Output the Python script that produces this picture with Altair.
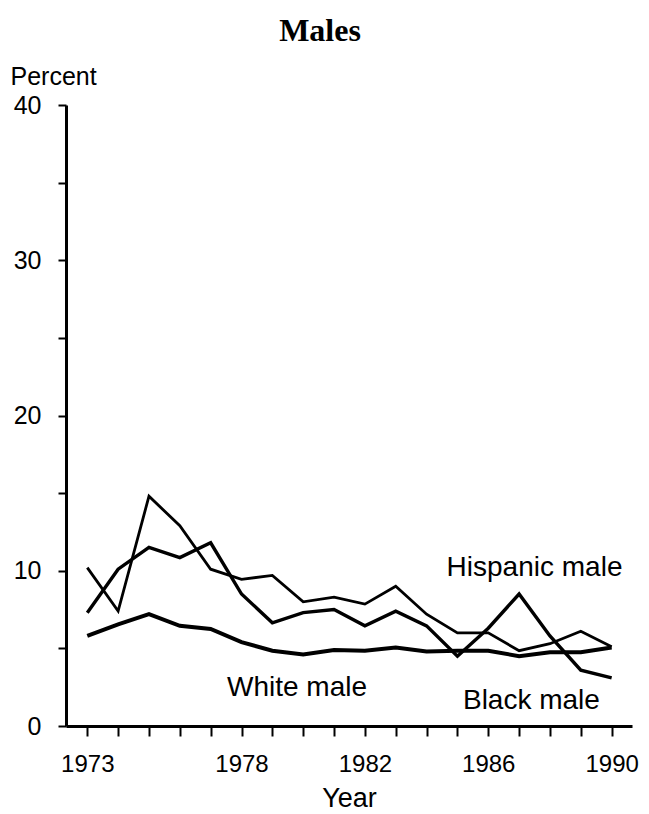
import altair as alt
import pandas as pd

years = list(range(1973, 1991))
white_male = [5.8, 6.55, 7.2, 6.45, 6.25, 5.4, 4.85, 4.6, 4.9, 4.85, 5.05, 4.8, 4.85, 4.85, 4.5, 4.75, 4.75, 5.05]
black_male = [7.3, 10.1, 11.5, 10.85, 11.8, 8.5, 6.65, 7.3, 7.5, 6.45, 7.4, 6.45, 4.5, 6.3, 8.5, 5.8, 3.6, 3.1]
hispanic_male = [10.2, 7.4, 14.8, 12.9, 10.1, 9.45, 9.7, 8.0, 8.3, 7.85, 9.0, 7.2, 6.0, 6.0, 4.85, 5.3, 6.1, 5.1]

series_names = ["White male", "Black male", "Hispanic male"]
series_widths = [4, 2.8, 1.5]

label_text = ["Hispanic male", "White male", "Black male"]
label_x = [1987.5, 1979.8, 1987.4]
label_y = [9.65, 1.93, 1.07]

x_tick_labels = [1973, 1978, 1982, 1986, 1990]
y_ticks = [0, 5, 10, 15, 20, 25, 30, 35, 40]

rows = []
for name, vals in zip(series_names, [white_male, black_male, hispanic_male]):
    for yr, v in zip(years, vals):
        rows.append({"year": yr, "value": v, "series": name})
df = pd.DataFrame(rows)
lab = pd.DataFrame({"text": label_text, "year": label_x, "value": label_y})

xscale = alt.Scale(domain=[1972.31, 1990.66], nice=False, zero=False)
yscale = alt.Scale(domain=[0, 40], nice=False)

label_expr_x = "(" + " || ".join(f"datum.value == {v}" for v in x_tick_labels) + ") ? datum.label : ''"

x_axis = alt.Axis(
    title="Year", values=years, labelExpr=label_expr_x, format="d",
    tickSize=10, tickWidth=2, tickColor="black",
    domainWidth=3, domainColor="black",
    labelFontSize=24, labelFont="Liberation Sans", labelColor="black",
    labelPadding=16, titleFontSize=27, titleFont="Liberation Sans",
    titleFontWeight="normal", titleColor="black", titlePadding=9,
    grid=False, labelFlush=False, labelOverlap=False)
y_axis = alt.Axis(
    title="Percent", values=y_ticks,
    labelExpr="datum.value % 10 == 0 ? datum.label : ''",
    tickSize=8, tickWidth=2, tickColor="black",
    domainWidth=3, domainColor="black",
    labelFontSize=25, labelFont="Liberation Sans", labelColor="black",
    labelPadding=17, labelFlush=False, labelOverlap=False,
    titleAngle=0, titleAlign="left", titleBaseline="alphabetic",
    titleX=-56, titleY=-21, titleFontSize=25, titleFont="Liberation Sans",
    titleFontWeight="normal", titleColor="black", grid=False)

lines = alt.Chart(df).mark_line(color="black", strokeJoin="miter").encode(
    x=alt.X("year:Q", scale=xscale, axis=x_axis),
    y=alt.Y("value:Q", scale=yscale, axis=y_axis),
    detail="series:N",
    strokeWidth=alt.StrokeWidth("series:N", scale=alt.Scale(domain=series_names, range=series_widths), legend=None),
)

texts = alt.Chart(lab).mark_text(
    font="Liberation Sans", fontSize=28, color="black", align="center", baseline="alphabetic"
).encode(
    x=alt.X("year:Q", scale=xscale, axis=x_axis),
    y=alt.Y("value:Q", scale=yscale, axis=y_axis),
    text="text:N",
)

chart = alt.layer(lines, texts).properties(
    width=566, height=621,
    title=alt.TitleParams(text="Males", font="Liberation Serif", fontSize=32, fontWeight="bold",
                          color="black", anchor="middle", frame="group", dx=-29, offset=-9,
                          baseline="alphabetic"),
    autosize=alt.AutoSizeParams(type="none"),
    padding={"left": 58, "top": 97, "right": 9, "bottom": 100},
).configure_view(stroke=None)

chart.save("out.html", embed_options={"renderer": "svg", "actions": False})
